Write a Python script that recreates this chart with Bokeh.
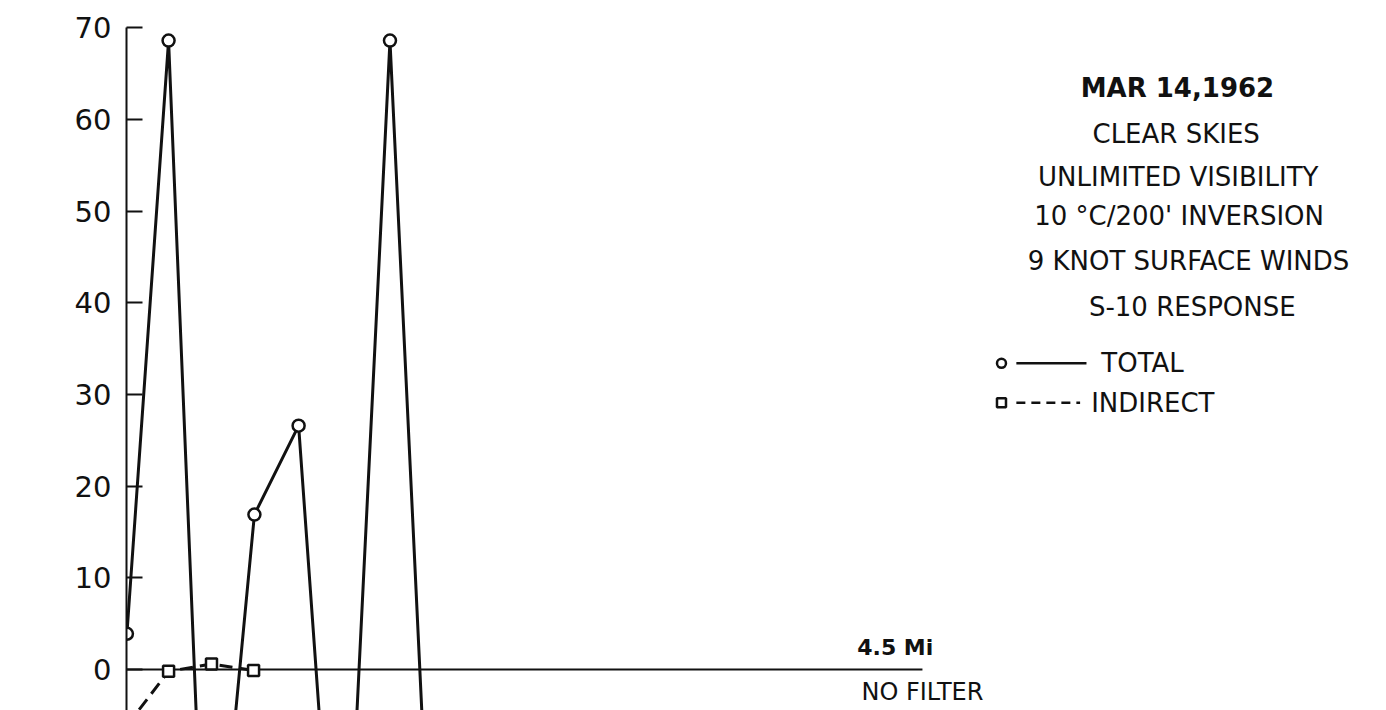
from bokeh.plotting import figure
from bokeh.models import LinearAxis, FixedTicker, Range1d, Label
from bokeh.embed import file_html
from bokeh.resources import INLINE

# S-10 response along the track (distance in station steps), no filter
total_x = [0.0, 0.98, 1.91, 3.0, 4.04, 5.05, 6.19, 7.2]
total_y = [3.9, 68.6, -36.3, 16.9, 26.6, -38.8, 68.6, -30.0]

indirect_x = [0.0, 0.98, 1.99, 2.98]
indirect_y = [-6.1, -0.2, 0.6, -0.1]

y_ticks = [0, 10, 20, 30, 40, 50, 60, 70]
baseline_end = 18.72

notes = [
    "MAR 14,1962",
    "CLEAR SKIES",
    "UNLIMITED VISIBILITY",
    "10 °C/200' INVERSION",
    "9 KNOT SURFACE WINDS",
    "S-10 RESPONSE",
]

INK = "#111111"
FONT = "DejaVu Sans"

p = figure(
    width=1386, height=710,
    output_backend="svg", toolbar_location=None,
    x_range=Range1d(-0.01, 29.64), y_range=Range1d(-4.47, 70.03),
    x_axis_location=None, y_axis_location=None,
    min_border_left=126, min_border_right=0,
    min_border_top=27, min_border_bottom=0,
    background_fill_color="white", border_fill_color="white",
)
p.outline_line_color = None
p.xgrid.grid_line_color = None
p.ygrid.grid_line_color = None

yaxis = LinearAxis(
    ticker=FixedTicker(ticks=y_ticks, minor_ticks=[]),
    major_tick_in=16, major_tick_out=0,
    major_tick_line_width=2, major_tick_line_color=INK,
    axis_line_width=2, axis_line_color=INK,
    major_label_standoff=15,
    major_label_text_font=FONT,
    major_label_text_font_size="29px",
    major_label_text_color=INK,
)
p.add_layout(yaxis, "left")

# zero baseline
p.segment(x0=[0], y0=[0], x1=[baseline_end], y1=[0], line_color=INK, line_width=2)

# series
p.line(total_x, total_y, line_color=INK, line_width=3)
p.line(indirect_x, indirect_y, line_color=INK, line_width=3, line_dash="13 7")
p.scatter(indirect_x, indirect_y, marker="square", size=11,
          fill_color="white", line_color=INK, line_width=2.5)
p.scatter(total_x, total_y, marker="circle", size=12,
          fill_color="white", line_color=INK, line_width=2.5)

# condition notes
note_x = [24.72, 24.69, 24.74, 24.76, 24.98, 25.07]
note_y = [63.4, 58.4, 53.7, 49.5, 44.6, 39.5]
for i, (tx, ty, t) in enumerate(zip(note_x, note_y, notes)):
    p.add_layout(Label(
        x=tx, y=ty, text=t, text_align="center", text_baseline="middle",
        text_font=FONT, text_font_size="26px", text_color=INK,
        text_font_style="bold" if i == 0 else "normal",
    ))

# key
p.scatter([20.58], [33.4], marker="circle", size=9,
          fill_color="white", line_color=INK, line_width=2.5)
p.segment(x0=[20.93], y0=[33.4], x1=[22.58], y1=[33.4], line_color=INK, line_width=2.5)
p.add_layout(Label(x=22.93, y=33.4, text="TOTAL", text_align="left",
                   text_baseline="middle", text_font=FONT, text_font_size="26px",
                   text_color=INK))
p.scatter([20.58], [29.1], marker="square", size=9,
          fill_color="white", line_color=INK, line_width=2.5)
p.segment(x0=[20.93], y0=[29.1], x1=[22.43], y1=[29.1], line_color=INK,
          line_width=2.5, line_dash="9 6")
p.add_layout(Label(x=22.69, y=29.1, text="INDIRECT", text_align="left",
                   text_baseline="middle", text_font=FONT, text_font_size="26px",
                   text_color=INK))

# panel labels at the end of the baseline
p.add_layout(Label(x=18.08, y=2.4, text="4.5 Mi", text_align="center",
                   text_baseline="middle", text_font=FONT, text_font_size="22px",
                   text_font_style="bold", text_color=INK))
p.add_layout(Label(x=18.72, y=-2.5, text="NO FILTER", text_align="center",
                   text_baseline="middle", text_font=FONT, text_font_size="24px",
                   text_color=INK))

open("out.html", "w").write(file_html(p, INLINE))
